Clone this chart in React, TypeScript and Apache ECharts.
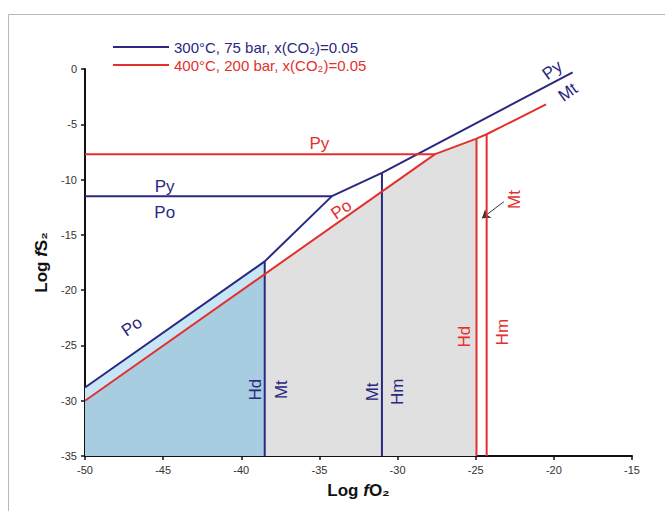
import React, { useEffect, useRef } from "react";
import * as echarts from "echarts";

// ---- data ----
const seriesNames = ["300°C, 75 bar, x(CO₂)=0.05", "400°C, 200 bar, x(CO₂)=0.05"];

// 300 °C boundaries (log fO2, log fS2)
const bluePyPo = [[-50, -11.5], [-34.2, -11.5]];
const blueSulfideBoundary = [[-50, -28.8], [-38.5, -17.4], [-34.2, -11.5], [-31.0, -9.4], [-18.8, -0.3]];
const blueHdMt = [[-38.5, -35], [-38.5, -17.4]];
const blueMtHm = [[-31.0, -35], [-31.0, -9.4]];

// 400 °C boundaries
const redPyPo = [[-50, -7.7], [-27.6, -7.7]];
const redSulfideBoundary = [[-50, -30.0], [-27.6, -7.7], [-24.95, -6.3], [-24.3, -5.9], [-20.5, -3.2]];
const redHdMt = [[-24.95, -35], [-24.95, -6.3]];
const redMtHm = [[-24.3, -35], [-24.3, -5.9]];

// shaded fields
const lightBlueField = [[-50, -28.8], [-38.5, -17.4]];
const darkBlueField = [[-50, -30.0], [-38.5, -18.5]];
const greyField = [[-38.5, -18.5], [-27.6, -7.7], [-24.95, -6.3]];

// field labels: text, x, y, rotation, colour group (0 = 300°C, 1 = 400°C)
const labelTexts = ["Py", "Po", "Py", "Po", "Po", "Py", "Mt", "Hd", "Mt", "Mt", "Hm", "Hd", "Hm", "Mt"];
const labelX = [-44.9, -44.9, -35.0, -47.0, -33.6, -20.1, -19.1, -39.1, -37.4, -31.6, -30.0, -25.7, -23.3, -22.5];
const labelY = [-10.6, -13.0, -6.7, -23.3, -12.7, -0.1, -2.1, -29.0, -29.0, -29.2, -29.2, -24.2, -23.8, -11.8];
const labelRot = [0, 0, 0, 35, 35, 36, 36, 90, 90, 90, 90, 90, 90, 90];
const labelGroup = [0, 0, 1, 0, 1, 0, 0, 0, 0, 0, 0, 1, 1, 1];

// arrow pointing to the narrow Mt field at 400 °C
const arrowFrom = [-23.2, -12.0];
const arrowTo = [-24.6, -13.5];

const xMin = -50, xMax = -15, xStep = 5;
const yMin = -35, yMax = 0, yStep = 5;

const BLUE = "#2a2880";
const RED = "#e3302e";
const FONT = "Liberation Sans, Arial, sans-serif";

export default function App() {
  const ref = useRef<HTMLDivElement>(null);

  useEffect(() => {
    if (!ref.current) return;
    const chart = echarts.init(ref.current, undefined, { renderer: "svg" });

    const lineSeries = (name: string, data: number[][], color: string) => ({
      type: "line",
      name,
      data,
      showSymbol: false,
      symbol: "none",
      lineStyle: { color, width: 2 },
      itemStyle: { color },
      z: 5,
      silent: true,
    });
    const areaSeries = (name: string, data: number[][], color: string, z: number) => ({
      type: "line",
      name,
      data,
      showSymbol: false,
      symbol: "none",
      lineStyle: { width: 0 },
      areaStyle: { color, opacity: 1, origin: "start" },
      z,
      silent: true,
    });

    const labels = labelTexts.map((t, i) => ({
      value: [labelX[i], labelY[i]],
      label: {
        show: true,
        formatter: t,
        rotate: labelRot[i],
        color: labelGroup[i] === 0 ? BLUE : RED,
        fontSize: 17,
        fontFamily: FONT,
        position: "inside",
        align: "center",
        verticalAlign: "middle",
        textBorderWidth: 0,
        opacity: 1,
      },
    }));

    chart.setOption({
      animation: false,
      backgroundColor: "#ffffff",
      grid: { left: 85, right: 33, top: 69, bottom: 55 },
      graphic: [
        {
          type: "rect",
          shape: { x: 8.5, y: 14.5, width: 700, height: 600 },
          style: { fill: "none", stroke: "#b8b8b8", lineWidth: 1 },
          silent: true,
        },
      ],
      legend: {
        orient: "vertical",
        left: 108,
        top: 34,
        itemWidth: 56,
        itemHeight: 2,
        itemGap: 2,
        icon: "rect",
        selectedMode: false,
        data: [
          { name: seriesNames[0], textStyle: { color: BLUE } },
          { name: seriesNames[1], textStyle: { color: RED } },
        ],
        textStyle: { fontSize: 15, fontFamily: FONT, lineHeight: 16, padding: [0, 0, 0, 0] },
      },
      xAxis: {
        type: "value",
        min: xMin,
        max: xMax,
        interval: xStep,
        name: "{a|Log }{b|f}{a|O₂}",
        nameLocation: "middle",
        nameGap: 26,
        nameTextStyle: {
          rich: {
            a: { fontSize: 17, fontWeight: "bold", fontFamily: FONT, color: "#111" },
            b: { fontSize: 17, fontWeight: "bold", fontStyle: "italic", fontFamily: FONT, color: "#111" },
          },
        },
        axisLine: { show: true, onZero: false, lineStyle: { color: "#111", width: 2 } },
        axisTick: { show: true, length: 4, lineStyle: { color: "#111", width: 1.5 } },
        axisLabel: { color: "#333", fontSize: 11, fontFamily: FONT, margin: 8 },
        splitLine: { show: false },
      },
      yAxis: {
        type: "value",
        min: yMin,
        max: yMax,
        interval: yStep,
        name: "{a|Log }{b|f}{a|S₂}",
        nameLocation: "middle",
        nameRotate: 90,
        nameGap: 31,
        nameTextStyle: {
          rich: {
            a: { fontSize: 17, fontWeight: "bold", fontFamily: FONT, color: "#111" },
            b: { fontSize: 17, fontWeight: "bold", fontStyle: "italic", fontFamily: FONT, color: "#111" },
          },
        },
        axisLine: { show: true, onZero: false, lineStyle: { color: "#111", width: 2 } },
        axisTick: { show: true, length: 4, lineStyle: { color: "#111", width: 1.5 } },
        axisLabel: { color: "#333", fontSize: 11, fontFamily: FONT, margin: 8 },
        splitLine: { show: false },
      },
      series: [
        areaSeries("field-lightblue", lightBlueField, "#c7e6f5", 1),
        areaSeries("field-darkblue", darkBlueField, "#a9cde0", 2),
        areaSeries("field-grey", greyField, "#e0e0e0", 2),
        lineSeries(seriesNames[0], bluePyPo, BLUE),
        lineSeries(seriesNames[0], blueSulfideBoundary, BLUE),
        lineSeries(seriesNames[0], blueHdMt, BLUE),
        lineSeries(seriesNames[0], blueMtHm, BLUE),
        lineSeries(seriesNames[1], redPyPo, RED),
        lineSeries(seriesNames[1], redSulfideBoundary, RED),
        lineSeries(seriesNames[1], redHdMt, RED),
        lineSeries(seriesNames[1], redMtHm, RED),
        {
          type: "scatter",
          name: "labels",
          data: labels,
          symbolSize: 0,
          clip: false,
          silent: true,
          z: 6,
          markLine: {
            silent: true,
            symbol: ["none", "arrow"],
            symbolSize: 8,
            label: { show: false },
            lineStyle: { color: "#333", width: 1, type: "solid", opacity: 1 },
            itemStyle: { color: "#111" },
            data: [[{ coord: arrowFrom }, { coord: arrowTo }]],
          },
        },
      ],
    });

    return () => chart.dispose();
  }, []);

  return (
    <div
      ref={ref}
      style={{ position: "absolute", left: 0, top: 0, width: 665, height: 511 }}
    />
  );
}
